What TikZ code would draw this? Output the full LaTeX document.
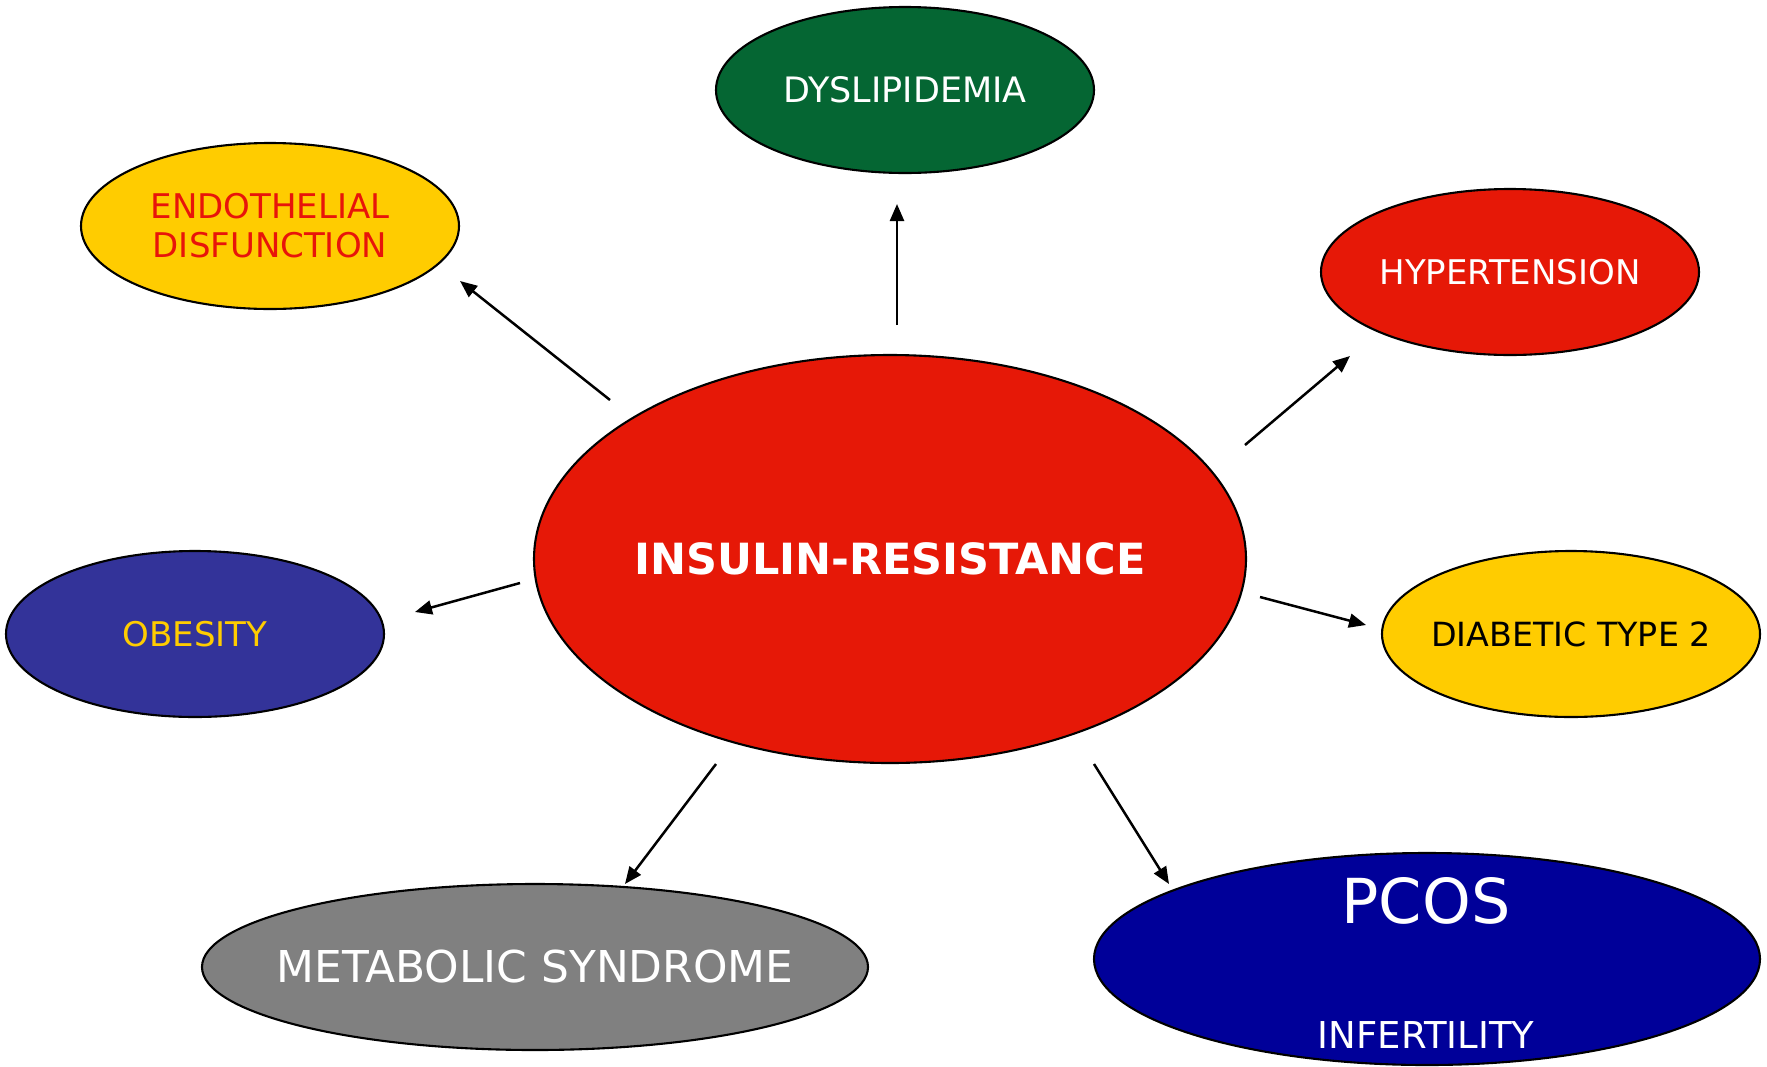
\documentclass[tikz,border=0pt]{standalone}
\usepackage{fontspec}
\setmainfont{DejaVu Sans}
\usetikzlibrary{shapes.geometric,arrows.meta}
\definecolor{dgreen}{RGB}{5,102,51}
\definecolor{ired}{RGB}{230,24,7}
\definecolor{iyellow}{RGB}{255,204,0}
\definecolor{iblue}{RGB}{51,51,153}
\definecolor{igray}{RGB}{128,128,128}
\definecolor{inavy}{RGB}{0,0,153}
\definecolor{tred}{RGB}{232,20,10}
\begin{document}
\begin{tikzpicture}[x=1pt,y=-1pt,
  blob/.style={ellipse,draw=black,line width=2.1pt,inner sep=0pt,
    minimum width=378pt,minimum height=166pt},
  txt/.style={inner sep=0pt,align=center},
  conn/.style={line width=2.5pt,-{Triangle[length=17pt,width=14pt]}},
  lbl/.style={font=\fontsize{34}{39}\selectfont}]
\useasboundingbox (0,0) rectangle (1767,1066);
% ellipses
\node[blob,fill=dgreen] (dys) at (905,90) {};
\node[blob,fill=iyellow] (endo) at (270,226) {};
\node[blob,fill=ired] (hyp) at (1510,272) {};
\node[blob,fill=ired,minimum width=712pt,minimum height=408pt] (ins) at (890,559) {};
\node[blob,fill=iblue] (ob) at (195,634) {};
\node[blob,fill=iyellow] (diab) at (1571,634) {};
\node[blob,fill=igray,minimum width=666pt] (met) at (535,967) {};
\node[blob,fill=inavy,minimum width=666pt,minimum height=212pt] (pcos) at (1427,959) {};
% texts
\node[txt,text=white,font=\fontsize{35}{40}\selectfont] (dyst) at (dys.center) {DYSLIPIDEMIA};
\node[txt,text=tred,lbl] (endot) at (endo.center) {ENDOTHELIAL\\DISFUNCTION};
\node[txt,text=white,lbl] (hypt) at (hyp.center) {HYPERTENSION};
\node[txt,text=white,font=\fontsize{43}{48}\selectfont\bfseries] (inst) at (ins.center) {INSULIN-RESISTANCE};
\node[txt,text=iyellow,lbl] (obt) at (ob.center) {OBESITY};
\node[txt,text=black,font=\fontsize{33.3}{38}\selectfont] (diabt) at (diab.center) {DIABETIC TYPE 2};
\node[txt,text=white,font=\fontsize{43.9}{48}\selectfont] (mett) at (met.center) {METABOLIC SYNDROME};
\node[txt,text=white,font=\fontsize{62}{66}\selectfont] (pcost) at (1426,901) {PCOS};
\node[txt,text=white,font=\fontsize{37}{42}\selectfont] (inft) at (1426,1035) {INFERTILITY};
% arrow start/end points
\coordinate (a1s) at (610,400); \coordinate (a1e) at (460,281);
\coordinate (a2s) at (897,325); \coordinate (a2e) at (897,204);
\coordinate (a3s) at (1245,445); \coordinate (a3e) at (1350,356);
\coordinate (a4s) at (520,583); \coordinate (a4e) at (415,612);
\coordinate (a5s) at (1260,597); \coordinate (a5e) at (1366,625);
\coordinate (a6s) at (716,764); \coordinate (a6e) at (625,884);
\coordinate (a7s) at (1094,764); \coordinate (a7e) at (1169,884);
\draw[conn] (a1s) -- (a1e);
\draw[conn] (a2s) -- (a2e);
\draw[conn] (a3s) -- (a3e);
\draw[conn] (a4s) -- (a4e);
\draw[conn] (a5s) -- (a5e);
\draw[conn] (a6s) -- (a6e);
\draw[conn] (a7s) -- (a7e);
\end{tikzpicture}
\end{document}
